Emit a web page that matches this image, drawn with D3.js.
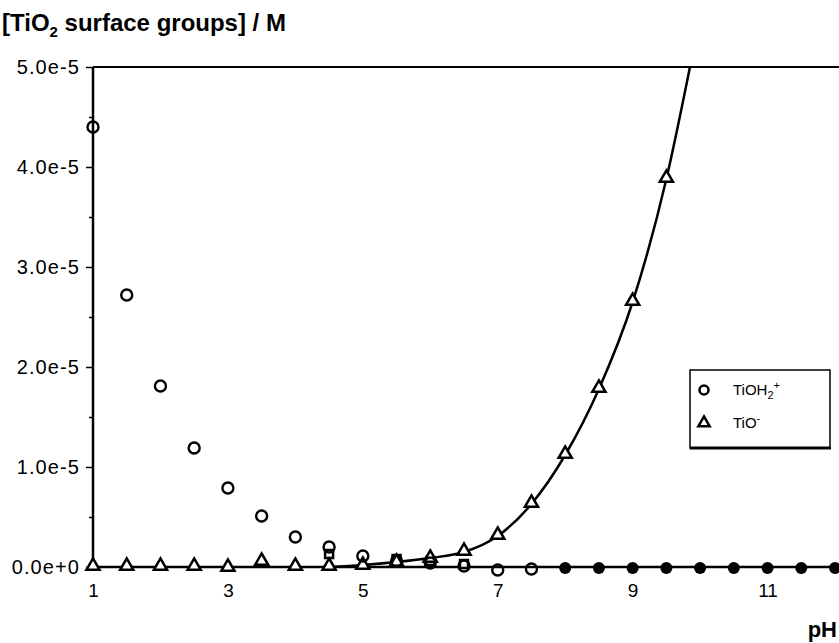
<!DOCTYPE html>
<html>
<head>
<meta charset="utf-8">
<script src="https://cdn.jsdelivr.net/npm/d3@7"></script>
<style>
  body { margin: 0; background: #fff; }
  svg { display: block; font-family: "Liberation Sans", Arial, sans-serif; }
</style>
</head>
<body>
<svg id="chart" width="839" height="643"></svg>
<script>
// values in units of 1e-5 M
const circPH  = [1, 1.5, 2, 2.5, 3, 3.5, 4, 4.5, 5, 5.5, 6, 6.5, 7, 7.5];
const circVal = [4.40, 2.72, 1.81, 1.19, 0.79, 0.51, 0.30, 0.20, 0.11, 0.06, 0.04, 0.01, -0.03, -0.02];

const triPH  = [1, 1.5, 2, 2.5, 3, 3.5, 4, 4.5, 5, 5.5, 6, 6.5, 7, 7.5, 8, 8.5, 9, 9.5];
const triVal = [0, 0, 0, 0, -0.01, 0.05, 0, 0, 0.01, 0.04, 0.08, 0.15, 0.31, 0.63, 1.12, 1.78, 2.65, 3.88];

const fitPH  = [4.5, 5, 5.5, 6, 6.5, 7, 7.5, 8, 8.5, 9, 9.5, 9.85];
const fitVal = [0, 0.02, 0.05, 0.09, 0.15, 0.31, 0.63, 1.12, 1.78, 2.65, 3.88, 5.0];

const sqPH  = [4.5, 5.5, 6, 6.5];
const sqVal = [0.13, 0.08, 0.06, 0.03];

const dotPH  = [8, 8.5, 9, 9.5, 10, 10.5, 11, 11.5, 12];
const dotVal = [0, 0, 0, 0, 0, 0, 0, 0, 0];

const xTicks = [1, 3, 5, 7, 9, 11];
const yTicks = [0, 1, 2, 3, 4, 5];
const yLabels = ["0.0e+0", "1.0e-5", "2.0e-5", "3.0e-5", "4.0e-5", "5.0e-5"];

const legendItems = [
  {sym: "circle", label: "TiOH", sub: "2", sup: "+"},
  {sym: "triangle", label: "TiO", sub: "", sup: "-"}
];

const svg = d3.select("#chart");

const x = d3.scaleLinear().domain([1, 12]).range([93, 835]);
const y = d3.scaleLinear().domain([0, 5]).range([567, 67]);

// title
const title = svg.append("text")
  .attr("x", 2).attr("y", 31)
  .attr("font-size", 24).attr("font-weight", "bold")
  .attr("letter-spacing", 0);
title.append("tspan").text("[TiO");
title.append("tspan").attr("font-size", 15).attr("dy", 6).text("2");
title.append("tspan").attr("dy", -6).text(" surface groups] / M");

// frame lines: top and left, x baseline
svg.append("line").attr("x1", 93).attr("x2", 839).attr("y1", y(5)).attr("y2", y(5))
  .attr("stroke", "#000").attr("stroke-width", 2);
svg.append("line").attr("x1", 93).attr("x2", 93).attr("y1", y(5)).attr("y2", y(0))
  .attr("stroke", "#000").attr("stroke-width", 2.5);
svg.append("line").attr("x1", 93).attr("x2", 839).attr("y1", y(0)).attr("y2", y(0))
  .attr("stroke", "#000").attr("stroke-width", 2.5);

// y axis ticks (major + minor)
const yAxis = d3.axisLeft(y).tickValues(yTicks).tickSize(7).tickPadding(6)
  .tickFormat((d, i) => yLabels[i]);
const gy = svg.append("g").attr("transform", "translate(93,0)").call(yAxis);
gy.select(".domain").remove();
gy.selectAll("line").attr("stroke-width", 1.5);
gy.selectAll("text").attr("font-size", 20).attr("letter-spacing", 1.1).attr("fill", "#000")
  .attr("font-family", "Liberation Sans, Arial, sans-serif");
svg.append("g").attr("transform", "translate(93,0)")
  .call(d3.axisLeft(y).tickValues([0.5, 1.5, 2.5, 3.5, 4.5]).tickSize(4).tickFormat(""))
  .call(g => g.select(".domain").remove())
  .selectAll("line").attr("stroke-width", 1.5);

// x axis labels
const xAxis = d3.axisBottom(x).tickValues(xTicks).tickSize(0).tickPadding(17)
  .tickFormat(d3.format("d"));
const gx = svg.append("g").attr("transform", "translate(0," + y(0) + ")").call(xAxis);
gx.select(".domain").remove();
gx.selectAll("text").attr("font-size", 19).attr("fill", "#000")
  .attr("font-family", "Liberation Sans, Arial, sans-serif");

svg.append("text").attr("x", 837).attr("y", 637).attr("text-anchor", "end")
  .attr("font-size", 22).attr("font-weight", "bold").text("pH");

// fitted curve for TiO-
const line = d3.line().x(d => x(d[0])).y(d => y(d[1])).curve(d3.curveMonotoneX);
svg.append("path")
  .datum(fitPH.map((p, i) => [p, fitVal[i]]))
  .attr("d", line).attr("fill", "none").attr("stroke", "#000").attr("stroke-width", 2.5);

const triPath = d3.symbol().type(d3.symbolTriangle).size(75);

// squares
svg.append("g").selectAll("rect").data(sqPH).join("rect")
  .attr("x", d => x(d) - 4).attr("y", (d, i) => y(sqVal[i]) - 4)
  .attr("width", 8).attr("height", 8)
  .attr("fill", "#fff").attr("stroke", "#000").attr("stroke-width", 2.5);

// triangles
svg.append("g").selectAll("path").data(triPH).join("path")
  .attr("d", triPath)
  .attr("transform", (d, i) => "translate(" + x(d) + "," + (y(triVal[i]) - 1) + ")")
  .attr("fill", "#fff").attr("stroke", "#000").attr("stroke-width", 2.5);

// circles
svg.append("g").selectAll("circle").data(circPH).join("circle")
  .attr("cx", d => x(d)).attr("cy", (d, i) => y(circVal[i]))
  .attr("r", 5.5).attr("fill", "none").attr("stroke", "#000").attr("stroke-width", 2.4);

// overlapping points on baseline
svg.append("g").selectAll("circle").data(dotPH).join("circle")
  .attr("cx", d => x(d)).attr("cy", (d, i) => y(dotVal[i]) + 1)
  .attr("r", 6).attr("fill", "#000");

// legend
const lg = svg.append("g").attr("transform", "translate(690,370)");
lg.append("rect").attr("x", 0).attr("y", 0).attr("width", 140).attr("height", 78)
  .attr("fill", "#fff").attr("stroke", "#000").attr("stroke-width", 1.5);
lg.append("line").attr("x1", 0).attr("x2", 141).attr("y1", 78).attr("y2", 78)
  .attr("stroke", "#000").attr("stroke-width", 3);
legendItems.forEach((it, i) => {
  const cy = 20 + i * 33;
  if (it.sym === "circle") {
    lg.append("circle").attr("cx", 14).attr("cy", cy).attr("r", 4.5)
      .attr("fill", "none").attr("stroke", "#000").attr("stroke-width", 2.5);
  } else {
    lg.append("path").attr("d", d3.symbol().type(d3.symbolTriangle).size(55))
      .attr("transform", "translate(14," + cy + ")")
      .attr("fill", "#fff").attr("stroke", "#000").attr("stroke-width", 2.5);
  }
  const t = lg.append("text").attr("x", 43).attr("y", cy + 5).attr("font-size", 15);
  t.append("tspan").text(it.label);
  if (it.sub) t.append("tspan").attr("font-size", 11).attr("dy", 4).text(it.sub);
  t.append("tspan").attr("font-size", 11).attr("dy", it.sub ? -10 : -6).text(it.sup);
});
</script>
</body>
</html>
